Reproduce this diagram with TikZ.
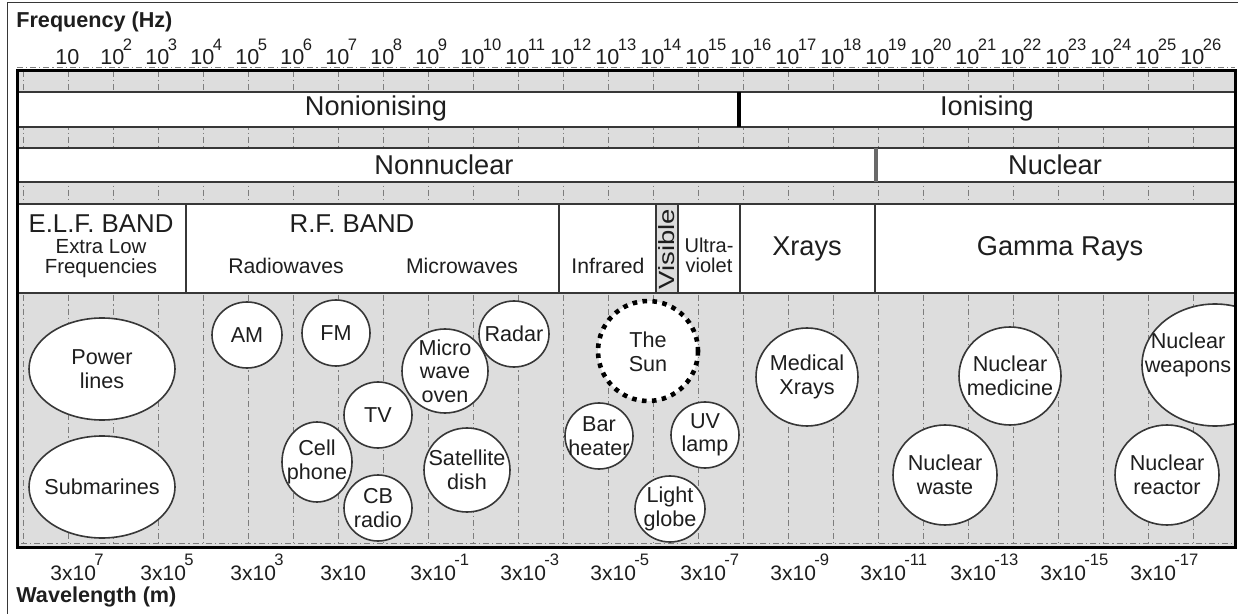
\documentclass[tikz,border=0pt]{standalone}
\usepackage{fontspec}
\usepackage{graphicx}
\setmainfont{Liberation Sans}
\definecolor{bandgray}{RGB}{221,221,221}
\definecolor{rulegray}{RGB}{55,55,55}
\definecolor{tickgray}{RGB}{125,125,125}
\definecolor{inkgray}{RGB}{30,30,30}
\newcommand{\supnum}[1]{\kern-0.8pt\raisebox{7.2pt}{\fontsize{8.3}{8.3}\selectfont#1}}

\begin{document}
\begin{tikzpicture}[x=0.5pt,y=-0.5pt,
    every node/.style={text=inkgray,inner sep=0pt},
    bigtext/.style={font=\fontsize{13.6}{15}\selectfont,anchor=base},
    bandtext/.style={font=\fontsize{12.9}{14}\selectfont,anchor=base},
    smalltext/.style={font=\fontsize{10.6}{12}\selectfont,anchor=base},
    scalelab/.style={font=\fontsize{10.8}{12}\selectfont,anchor=base west},
    bubtext/.style={font=\fontsize{10.8}{11.8}\selectfont,align=center},
    bubble/.style={draw=rulegray,fill=white,line width=0.8pt},
    tick/.style={tickgray,line width=0.4pt,dash pattern=on 3pt off 1.5pt on 0.6pt off 1.5pt},
    divider/.style={rulegray,line width=1pt}]

  \useasboundingbox (0,0) rectangle (1246,614);

  %-------------------- frame and titles --------------------
  \draw[rulegray,line width=0.5pt] (7,614) -- (7,3) -- (1238,3);
  \node[font=\bfseries\fontsize{10.8}{12}\selectfont,anchor=base west] (freqtitle) at (16,28) {Frequency (Hz)};
  \node[font=\bfseries\fontsize{10.8}{12}\selectfont,anchor=base west] (wavetitle) at (16,602) {Wavelength (m)};

  %-------------------- grey body with decade ticks --------------------
  \fill[bandgray] (17,71) rectangle (1235,547);
  \draw[tick] (17,67) -- (1235,67);
  \draw[tick] (21,543) -- (1232,543);
  \foreach \k in {0,...,26}{
      \draw[tick] ({23+45*\k},71) -- ({23+45*\k},543);
  }

  % Wiersze z opisami
  \fill[white] (17,92) rectangle (1235,127);
  \fill[white] (17,148) rectangle (1235,182);
  \fill[white] (17,204) rectangle (1235,293);
  \fill[bandgray] (656,204) rectangle (678,293);
  \foreach \yy in {92,127,148,182,204,293}{
      \draw[divider] (17,\yy) -- (1235,\yy);
  }
  \draw[black,line width=1.6pt] (739,92) -- (739,127);
  \draw[rulegray!75,line width=1.6pt] (876,148) -- (876,182);
  \foreach \xx in {186,559,656,678,740,875}{
      \draw[divider] (\xx,204) -- (\xx,293);
  }

  %-------------------- scales --------------------
  \node[scalelab] (f1) at (55,65) {10};
  \foreach \k in {2,...,26}{
      \node[scalelab] (f\k) at ({10+45*\k},65) {10\supnum{\k}};
  }
  \foreach \k in {1,3,...,25}{
      \pgfmathtruncatemacro{\ee}{8-\k}
      \node[scalelab,font=\fontsize{10.5}{12}\selectfont] (w\k) at ({5+45*\k},580)
          {\ifnum\ee=1 3x10\else 3x10\supnum{\ee}\fi};
  }

  %-------------------- row labels --------------------
  \node[bigtext] (nonion) at (376,116) {Nonionising};
  \node[bigtext] (ion) at (987,116) {Ionising};
  \node[bigtext] (nonnuc) at (444,175) {Nonnuclear};
  \node[bigtext] (nuc) at (1055,175) {Nuclear};

  \node[bandtext] (elf) at (101,233) {E.L.F. BAND};
  \node[smalltext,font=\fontsize{10.2}{12}\selectfont] (elfsuba) at (101,254) {Extra Low};
  \node[smalltext,font=\fontsize{10.2}{12}\selectfont] (elfsubb) at (101,274) {Frequencies};
  \node[bandtext] (rf) at (352,233) {R.F. BAND};
  \node[smalltext] (radio) at (286,274) {Radiowaves};
  \node[smalltext] (micro) at (462,274) {Microwaves};
  \node[smalltext] (infra) at (608,274) {Infrared};
  \node[font=\fontsize{11}{12}\selectfont,rotate=90] (visible) at (667,249)
      {\scalebox{1.25}[1]{Visible}};
  \node[smalltext,font=\fontsize{10}{12}\selectfont] (ultraa) at (709,253) {Ultra-};
  \node[smalltext,font=\fontsize{10}{12}\selectfont] (ultrab) at (709,273) {violet};
  \node[bigtext] (xray) at (807,256) {Xrays};
  \node[bigtext] (gamma) at (1060,256) {Gamma Rays};

  %-------------------- sources --------------------
  \foreach \nm/\cx/\cy/\rx/\ry/\txt in {
      powerlines/102/369/73/51/{Power\\lines},
      submarines/102/487/73/51/{Submarines},
      am/247/335/35/33/{AM},
      fm/336/333/34/33/{FM},
      tv/378/415/34/33/{TV},
      cellphone/317/462/35/40/{Cell\\phone},
      cbradio/378/508/34/33/{CB\\radio},
      mwoven/445/371/43/42/{Micro\\wave\\oven},
      radar/514/334/35/33/{Radar},
      satdish/467/470/43/42/{Satellite\\dish},
      barheater/599/436/34/33/{Bar\\heater},
      uvlamp/705/435/34/33/{UV\\lamp},
      lightglobe/670/509/35/33/{Light\\globe},
      medxray/807/377/51/49/{Medical\\Xrays},
      nucmed/1010/376/51/49/{Nuclear\\medicine},
      nucwaste/945/475/52/50/{Nuclear\\waste},
      nucreactor/1167/475/52/50/{Nuclear\\reactor}}{
      \draw[bubble] (\cx,\cy) ellipse [x radius=\rx, y radius=\ry];
      \node[bubtext] (\nm) at (\cx,\cy) {\txt};
  }

  % Slonce
  \draw[black,fill=white,line width=2.3pt,dash pattern=on 2.3pt off 2.7pt] (648,351) circle [radius=50];
  \node[bubtext] (sun) at (648,352) {The\\Sun};

  % Bron jadrowa, przycieta ramka
  \begin{scope}
    \clip (17,71) rectangle (1235,547);
    \draw[bubble] (1215,365) ellipse [x radius=73, y radius=61];
  \end{scope}
  \node[bubtext] (nucweapons) at (1188,355) {Nuclear\\weapons};

  \draw[black,line width=1.5pt] (17,71) rectangle (1235,547);

\end{tikzpicture}
\end{document}
